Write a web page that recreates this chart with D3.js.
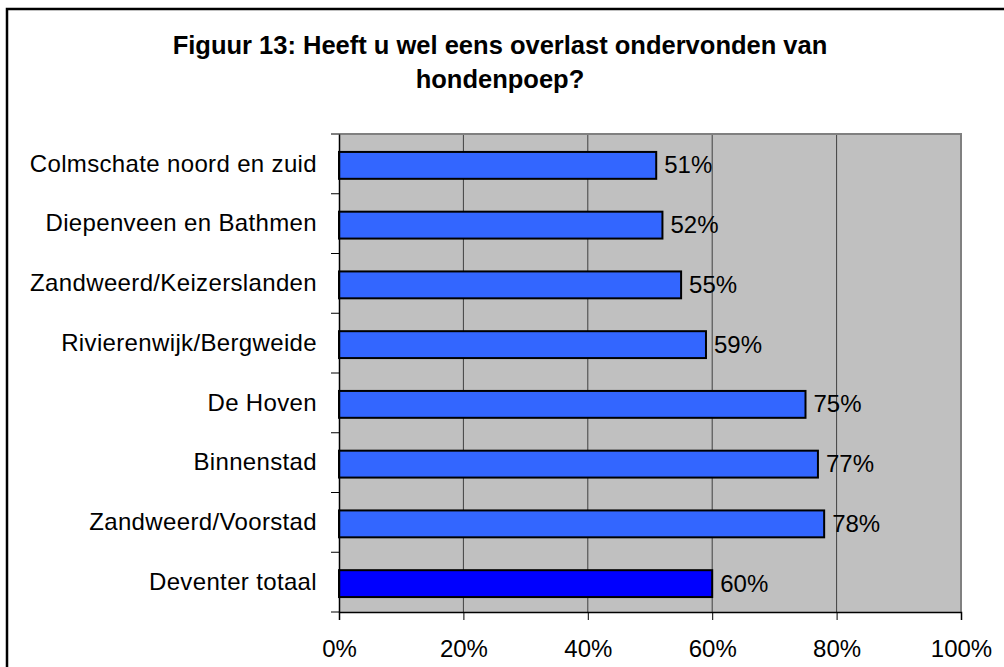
<!DOCTYPE html>
<html>
<head>
<meta charset="utf-8">
<script src="https://cdn.jsdelivr.net/npm/d3@7"></script>
<style>
  body { margin: 0; background: #fff; }
  svg text { font-family: "Liberation Sans", Arial, sans-serif; fill: #000; }
</style>
</head>
<body>
<svg id="chart" width="1004" height="667"></svg>
<script>
// data
let categories = ['Colmschate noord en zuid', 'Diepenveen en Bathmen', 'Zandweerd/Keizerslanden',
  'Rivierenwijk/Bergweide', 'De Hoven', 'Binnenstad', 'Zandweerd/Voorstad', 'Deventer totaal'];
let values = [51, 52, 55, 59, 75, 77, 78, 60];
let xTicks = [0, 20, 40, 60, 80, 100];
let titleLines = ['Figuur 13: Heeft u wel eens overlast ondervonden van', 'hondenpoep?'];

let w = 1004, h = 667;
let pLeft = 339, pRight = 961, pTop = 134, pBottom = 612;

let svg = d3.select('#chart');

// outer frame (cut off at right and bottom)
svg.append('rect')
  .attr('x', 7).attr('y', 9)
  .attr('width', 1100).attr('height', 800)
  .attr('fill', 'none').attr('stroke', '#000').attr('stroke-width', 2.5);

// title
svg.selectAll('.title')
  .data(titleLines)
  .enter()
  .append('text')
  .attr('class', 'title')
  .attr('x', 500)
  .attr('y', (d, i) => 54 + i * 34)
  .attr('text-anchor', 'middle')
  .style('font-size', '25.5px')
  .style('font-weight', 'bold')
  .text(d => d);

let xScale = d3.scaleLinear().domain([0, 100]).range([pLeft, pRight]);
let yScale = d3.scaleBand().domain(categories).range([pTop, pBottom]).paddingInner(0.55).paddingOuter(0.275);
let bandScale = d3.scaleBand().domain(categories).range([pTop, pBottom]);

// plot background
svg.append('rect')
  .attr('x', pLeft).attr('y', pTop)
  .attr('width', pRight - pLeft).attr('height', pBottom - pTop)
  .attr('fill', '#c0c0c0');

// gridlines
svg.selectAll('.grid')
  .data(xTicks.slice(1, -1))
  .enter()
  .append('line')
  .attr('x1', d => xScale(d)).attr('x2', d => xScale(d))
  .attr('y1', pTop).attr('y2', pBottom)
  .attr('stroke', '#404040').attr('stroke-width', 1);

// plot border top / right
svg.append('path')
  .attr('d', `M${pLeft},${pTop} H${pRight} V${pBottom}`)
  .attr('fill', 'none').attr('stroke', '#808080').attr('stroke-width', 2);

// bars
svg.selectAll('.bar')
  .data(values)
  .enter()
  .append('rect')
  .attr('class', 'bar')
  .attr('x', pLeft)
  .attr('y', (d, i) => yScale(categories[i]) + 1.5)
  .attr('width', d => xScale(d) - pLeft)
  .attr('height', yScale.bandwidth())
  .attr('fill', (d, i) => categories[i] == 'Deventer totaal' ? '#0000ff' : '#3366ff')
  .attr('stroke', '#000').attr('stroke-width', 2);

// value labels
svg.selectAll('.val')
  .data(values)
  .enter()
  .append('text')
  .attr('x', d => xScale(d) + 8)
  .attr('y', (d, i) => yScale(categories[i]) + 1 + yScale.bandwidth() / 2)
  .attr('dy', '0.35em')
  .style('font-size', '24px')
  .text(d => d + '%');

// x axis
let xAxis = d3.axisBottom(xScale)
  .tickValues(xTicks)
  .tickFormat(d => d + '%')
  .tickSize(8)
  .tickPadding(20);
let xg = svg.append('g')
  .attr('transform', `translate(0, ${pBottom})`)
  .call(xAxis);
xg.select('.domain').attr('stroke', '#000').attr('stroke-width', 1.5);
xg.selectAll('.tick line').attr('stroke', '#000');
xg.selectAll('text').style('font-size', '24px').attr('font-family', null);

// y axis: ticks at band boundaries
let yAxis = d3.axisLeft(yScale).tickSize(0).tickPadding(22);
let yg = svg.append('g')
  .attr('transform', `translate(${pLeft}, 0)`)
  .call(yAxis);
yg.select('.domain').attr('stroke', '#000').attr('stroke-width', 1.5);
yg.selectAll('text').style('font-size', '24px').style('letter-spacing', '0.35px').attr('font-family', null);

svg.selectAll('.ytick')
  .data(categories.concat(['end']))
  .enter()
  .append('line')
  .attr('x1', pLeft - 8).attr('x2', pLeft)
  .attr('y1', (d, i) => i < categories.length ? bandScale(d) : pBottom)
  .attr('y2', (d, i) => i < categories.length ? bandScale(d) : pBottom)
  .attr('stroke', '#000');
</script>
</body>
</html>
